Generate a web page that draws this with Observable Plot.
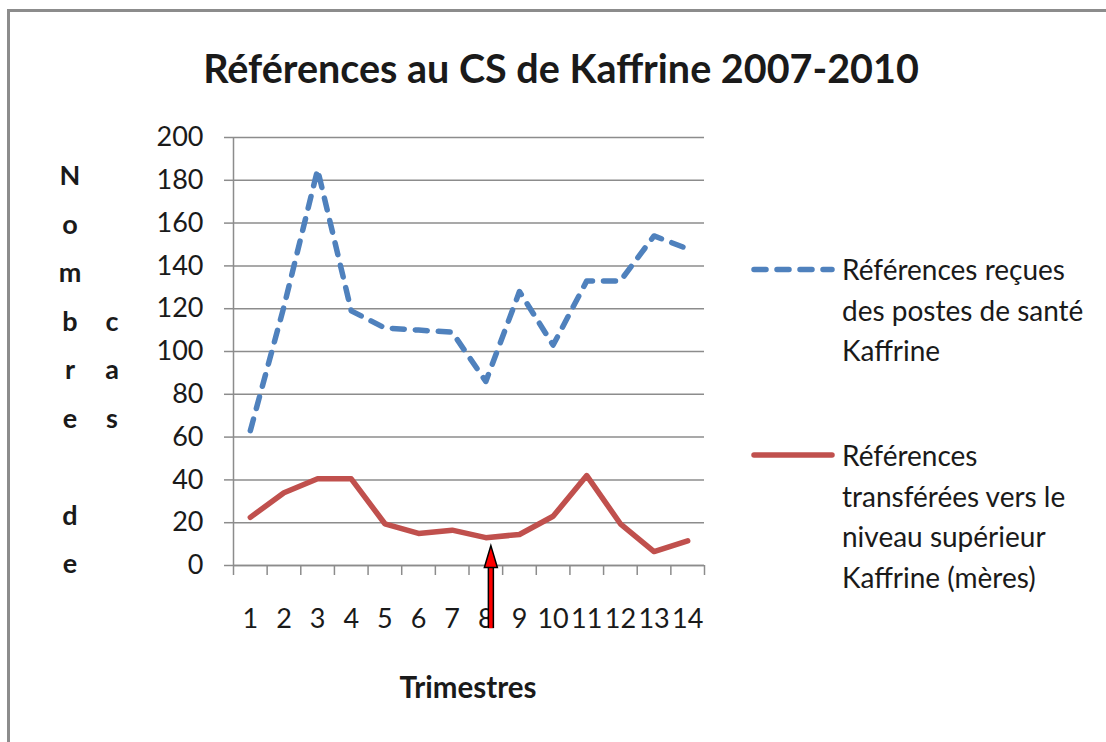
<!DOCTYPE html>
<html>
<head>
<meta charset="utf-8">
<script src="https://cdn.jsdelivr.net/npm/d3@7"></script>
<script src="https://cdn.jsdelivr.net/npm/@observablehq/plot@0.6"></script>
<style>
  html, body { margin: 0; padding: 0; background: #fff; overflow: hidden; width: 1106px; height: 742px; }
  #wrap { position: relative; width: 1106px; height: 742px; overflow: hidden; font-family: Lato, "Open Sans", sans-serif; color: #1a1a1a; }
  #frameTop { position: absolute; left: 7px; top: 9px; width: 1099px; height: 3px; background: #8c8c8c; }
  #frameLeft { position: absolute; left: 7px; top: 9px; width: 3px; height: 733px; background: #8c8c8c; }
  #chart { position: absolute; left: 0; top: 0; width: 1106px; height: 742px; }
  #chart svg { display: block; }
  .abs { position: absolute; white-space: nowrap; }
  #title { left: 0; width: 1106px; text-align: center; top: 48px; font-size: 39.5px; font-weight: bold; line-height: 40px; text-indent: 16px; }
  .ycol { position: absolute; width: 40px; text-align: center; font-size: 27px; font-weight: bold; line-height: 48.5px; }
  #xlabel { left: 368px; width: 200px; text-align: center; top: 672px; font-size: 29.5px; font-weight: bold; line-height: 30px; }
  .legtext { position: absolute; left: 842px; font-size: 28px; line-height: 40.7px; }
</style>
</head>
<body>
<div id="wrap">
  <div id="frameTop"></div>
  <div id="frameLeft"></div>
  <div id="chart"></div>
  <div id="title" class="abs"></div>
  <div id="ycol1" class="ycol" style="left:50px; top:151px;"></div>
  <div id="ycol2" class="ycol" style="left:92px; top:151px;"></div>
  <div id="xlabel" class="abs"></div>
  <svg id="legsw" class="abs" style="left:740px; top:250px;" width="110" height="230"></svg>
  <div id="leg1" class="legtext" style="top:249px;"></div>
  <div id="leg2" class="legtext" style="top:435px;"></div>
</div>
<script>
// ---- data ----
const titleText = "Références au CS de Kaffrine 2007-2010";
const yLabelCol1 = ["N", "o", "m", "b", "r", "e", "", "d", "e"];
const yLabelCol2 = ["", "", "", "c", "a", "s"];
const xLabelText = "Trimestres";
const quarters = [1, 2, 3, 4, 5, 6, 7, 8, 9, 10, 11, 12, 13, 14];
const recues = [63, 121, 185, 119, 111, 110, 109, 86, 128, 103, 133, 133, 154, 148];
const transferees = [22.5, 34, 40.5, 40.5, 19.5, 15, 16.5, 13, 14.5, 23, 42, 19.5, 6.5, 11.5];
const yTicks = [0, 20, 40, 60, 80, 100, 120, 140, 160, 180, 200];
const xBounds = [0.5, 1.5, 2.5, 3.5, 4.5, 5.5, 6.5, 7.5, 8.5, 9.5, 10.5, 11.5, 12.5, 13.5, 14.5];
const legend1 = ["Références reçues", "des postes de santé", "Kaffrine"];
const legend2 = ["Références", "transférées vers le", "niveau supérieur", "Kaffrine (mères)"];
// arrow annotation (quarter position, tip value, neck value, base value)
const arrowAnn = [{q: 8.15, tip: 9.3, neck: -0.6, base: -29.5}];

const blue = "#4F81BD", red = "#C0504D", grid = "#8c8c8c", ink = "#1a1a1a";

const rowsA = quarters.map((q, i) => ({q, v: recues[i]}));
const rowsB = quarters.map((q, i) => ({q, v: transferees[i]}));

const arrowHead = {
  draw(ctx) { ctx.moveTo(0, 0); ctx.lineTo(6.5, 22); ctx.lineTo(-6.5, 22); ctx.closePath(); }
};

const chart = Plot.plot({
  width: 1106,
  height: 742,
  marginLeft: 233,
  marginRight: 402,
  marginTop: 137,
  marginBottom: 177,
  style: {fontFamily: "Lato, 'Open Sans', sans-serif", background: "transparent", color: ink},
  x: {type: "linear", domain: [0.5, 14.5]},
  y: {domain: [0, 200]},
  marks: [
    Plot.gridY(yTicks, {stroke: grid, strokeOpacity: 1, strokeWidth: 1.5}),
    Plot.ruleX([0.5], {stroke: grid, strokeWidth: 1.5}),
    Plot.ruleY([0], {stroke: grid, strokeWidth: 1.5}),
    Plot.axisY(yTicks, {tickSize: 9, tickPadding: 21, fontSize: 27, stroke: grid, strokeWidth: 1.5, fill: ink, label: null}),
    Plot.axisX(xBounds, {tickSize: 10, tickFormat: () => "", stroke: grid, strokeWidth: 1.5, label: null}),
    Plot.axisX(quarters, {tickSize: 0, tickPadding: 43, fontSize: 27, fill: ink, label: null}),
    Plot.line(rowsB, {x: "q", y: "v", stroke: red, strokeWidth: 5.5, strokeLinejoin: "round"}),
    Plot.line(rowsA, {x: "q", y: "v", stroke: blue, strokeWidth: 5.5, strokeDasharray: "12,11", strokeLinecap: "round", strokeLinejoin: "round"}),
    Plot.ruleX(arrowAnn, {x: "q", y1: "base", y2: "neck", stroke: "black", strokeWidth: 6.5}),
    Plot.ruleX(arrowAnn, {x: "q", y1: "base", y2: "neck", stroke: "#ff0000", strokeWidth: 3.5}),
    Plot.dot(arrowAnn, {x: "q", y: "tip", symbol: arrowHead, r: 6, fill: "#ff0000", stroke: "black", strokeWidth: 1.5})
  ]
});
document.getElementById("chart").appendChild(chart);

document.getElementById("title").textContent = titleText;
document.getElementById("xlabel").textContent = xLabelText;
document.getElementById("ycol1").innerHTML = yLabelCol1.map(c => `<div style="height:48.5px">${c}</div>`).join("");
document.getElementById("ycol2").innerHTML = yLabelCol2.map(c => `<div style="height:48.5px">${c}</div>`).join("");
document.getElementById("leg1").innerHTML = legend1.map(t => `<div>${t}</div>`).join("");
document.getElementById("leg2").innerHTML = legend2.map(t => `<div>${t}</div>`).join("");

const sw = d3.select("#legsw");
sw.append("line").attr("x1", 14).attr("x2", 92).attr("y1", 19.5).attr("y2", 19.5)
  .attr("stroke", blue).attr("stroke-width", 5.5).attr("stroke-dasharray", "12,11").attr("stroke-linecap", "round");
sw.append("line").attr("x1", 14).attr("x2", 92).attr("y1", 205).attr("y2", 205)
  .attr("stroke", red).attr("stroke-width", 5.5).attr("stroke-linecap", "round");
</script>
</body>
</html>
